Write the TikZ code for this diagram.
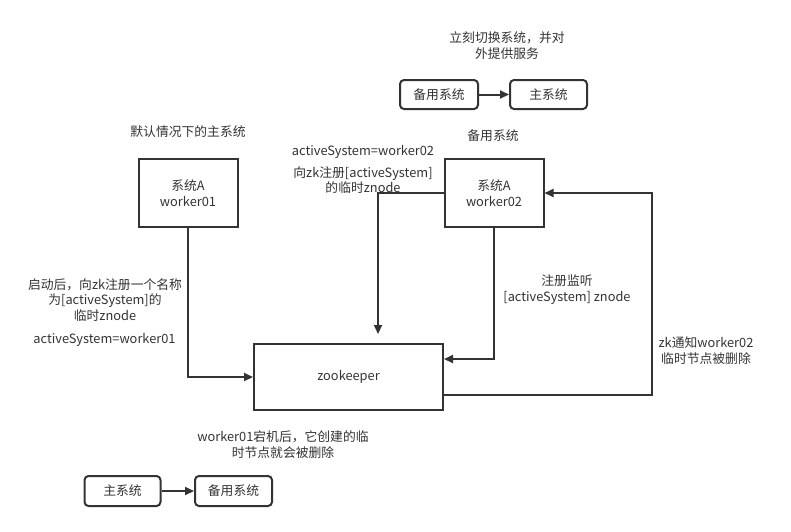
\documentclass[tikz,border=0pt]{standalone}
\usepackage{fontspec}
\setmainfont{Noto Sans CJK SC}
\usetikzlibrary{arrows.meta,calc}
\definecolor{ink}{HTML}{333333}
\tikzset{
  box/.style={draw=ink, line width=2pt, rectangle, align=center, text=ink, inner sep=0pt},
  rbox/.style={box, rounded corners=4pt},
  lbl/.style={align=center, text=ink, inner sep=0pt},
  arr/.style={draw=ink, line width=2pt, -{Triangle[length=9pt,width=8pt]}},
}
\begin{document}
\begin{tikzpicture}[x=1pt,y=-1pt, every node/.style={font=\fontsize{12.8}{15.5}\selectfont}]
\useasboundingbox (0,0) rectangle (791,531);
\fill[white] (0,0) rectangle (791,531);
% main boxes
\node[box, minimum width=99pt, minimum height=68pt] (w1) at (188,193) {系统A\\worker01};
\node[box, minimum width=99pt, minimum height=68pt] (w2) at (494,193) {系统A\\worker02};
\node[box, minimum width=189pt, minimum height=66pt] (zk) at (348.5,377) {zookeeper};
% small rounded boxes
\node[rbox, minimum width=78pt, minimum height=29pt] (b1) at (439,94.5) {备用系统};
\node[rbox, minimum width=77pt, minimum height=29pt] (b2) at (548.5,94.5) {主系统};
\node[rbox, minimum width=76pt, minimum height=30pt] (b3) at (122.5,491) {主系统};
\node[rbox, minimum width=77pt, minimum height=30pt] (b4) at (233.5,491) {备用系统};
% coordinates
\coordinate (c1) at (378,334);
\coordinate (c2) at (652,300);
% connectors
\draw[arr] (b1.east) -- (b2.west);
\draw[arr] (b3.east) -- (b4.west);
\draw[arr] (w1.south) |- (zk.west);
\draw[arr] (w2.west) -| (c1);
\draw[arr] (w2.south) |- ([yshift=18pt]zk.east);
\draw[arr] ([yshift=-18pt]zk.east) -| (c2) |- (w2.east);
% labels
\node[lbl] (t1) at (507,45.5) {立刻切换系统，并对\\外提供服务};
\node[lbl] (t2) at (493,136) {备用系统};
\node[lbl] (t3) at (188,132) {默认情况下的主系统};
\node[lbl] (t4) at (363,152) {activeSystem=worker02};
\node[lbl] (t5) at (363,180) {向zk注册[activeSystem]\\的临时znode};
\node[lbl] (t6) at (105,300) {启动后，向zk注册一个名称\\为[activeSystem]的\\临时znode};
\node[lbl] (t7) at (104.5,340) {activeSystem=worker01};
\node[lbl] (t8) at (567,289.5) {注册监听\\{}[activeSystem] znode};
\node[lbl] (t9) at (706,350.5) {zk通知worker02\\临时节点被删除};
\node[lbl] (t10) at (283,444.5) {worker01宕机后，它创建的临\\时节点就会被删除};
\end{tikzpicture}
\end{document}
